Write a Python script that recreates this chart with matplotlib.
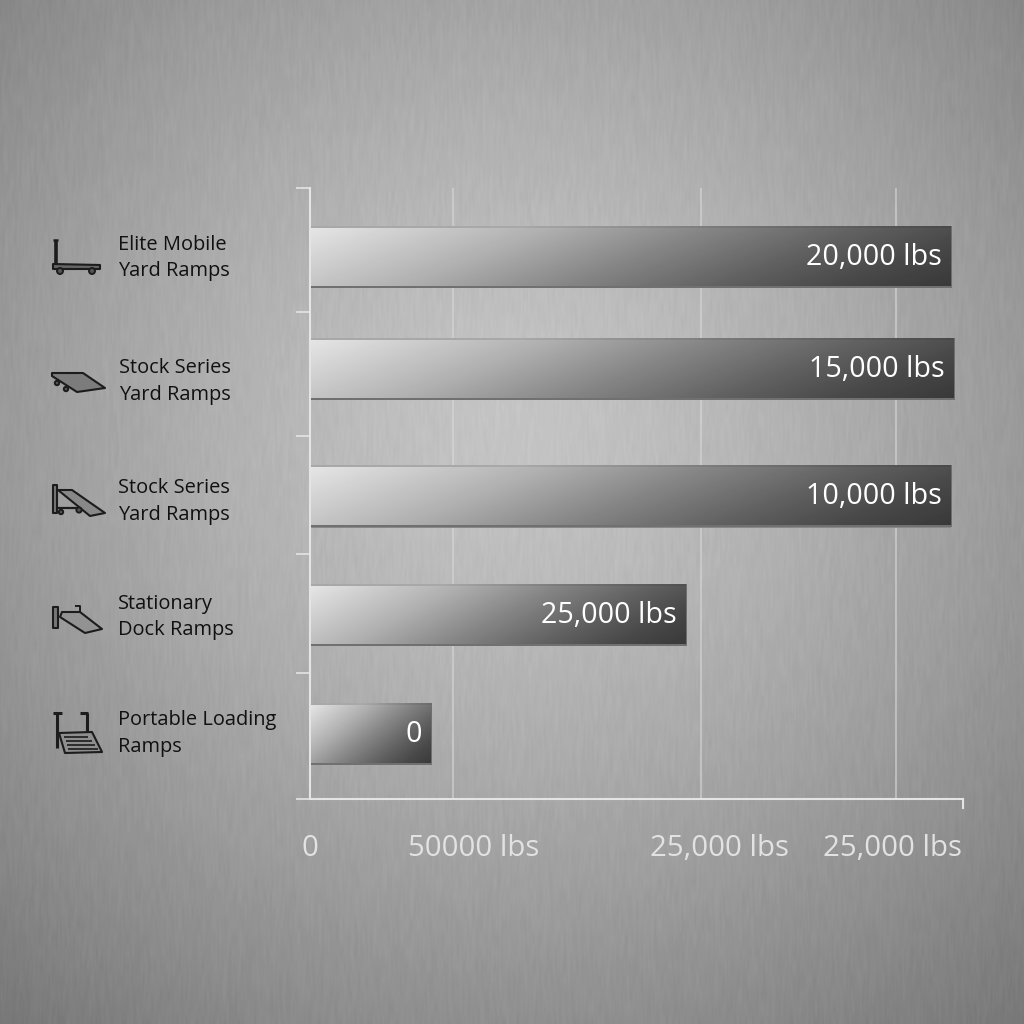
# -*- coding: utf-8 -*-
import numpy as np
import matplotlib
matplotlib.use("Agg")
import matplotlib.pyplot as plt
from matplotlib.patches import Polygon, Circle

plt.rcParams['font.family'] = ['Open Sans', 'DejaVu Sans']

# data (axis units, the printed labels do not follow the scale in the original)
categories = ["Elite Mobile\nYard Ramps", "Stock Series\nYard Ramps", "Stock Series\nYard Ramps",
              "Stationary\nDock Ramps", "Portable Loading\nRamps"]
bar_lengths = [641, 644, 641, 376, 121]
bar_labels = ["20,000 lbs", "15,000 lbs", "10,000 lbs", "25,000 lbs", "0"]
tick_labels = ["0", "50000 lbs", "25,000 lbs", "25,000 lbs"]

# layout, in image pixels
bar_centers = [257, 369, 496.5, 615, 734]
bar_height = 62
label_pos = [(118, 258), (119, 381.5), (118, 501.5), (118, 617), (118, 733.5)]
grid_x = [142, 391, 586]
tick_label_x = [-1, 163, 409, 582]
y_ticks = [188, 312, 436, 554, 673, 799]
x_end = 653

W = 1024


def make_background():
    # brushed metal: radial glow plus short vertical streaks
    yy, xx = np.mgrid[0:W, 0:W].astype(float)
    d = np.sqrt(((xx - 512) / 720) ** 2 + ((yy - 420) / 720) ** 2)
    base = 196 - 68 * d ** 1.35
    # hash noise on a coarse row grid, blended down each column
    step = 14
    rows = np.arange(W // step + 2)[:, None]
    cols = np.arange(W)[None, :]
    noise = np.modf(np.abs(np.sin(rows * 78.233 + cols * 12.9898) * 43758.5453))[0] - 0.5
    kernel = np.array([0.25, 0.5, 0.25])
    noise = np.apply_along_axis(lambda r: np.convolve(r, kernel, mode='same'), 1, noise)
    idx = yy[:, 0] / step
    i0 = idx.astype(int)
    f = (idx - i0)[:, None]
    streak = noise[i0] * (1 - f) + noise[i0 + 1] * f
    img = base + streak * 9
    return np.clip(img, 0, 255)


def bar_gradient(length, height):
    w, h = int(round(length)), int(round(height))
    y, x = np.mgrid[0:h, 0:w].astype(float)
    diag = 60 + 0.15 * w
    u = (x + diag * y / h) / (w + diag)
    img = np.interp(u, [0, 0.12, 0.3, 0.5, 0.7, 0.85, 1], [230, 208, 176, 134, 96, 72, 56])
    img[:2, :] = np.minimum(img[:2, :] * 0.92, 168)
    img[-2:, :] = 112
    img[:, -1] = np.maximum(img[:, -1], 110)
    return img


def line(ax, pts, lw=1.3, close=False, fc='none'):
    ax.add_patch(Polygon(pts, closed=close, fill=fc != 'none', facecolor=fc, edgecolor='#1c1c1c',
                         linewidth=lw, joinstyle='round'))


def wheel(ax, x, y, r=3.0):
    ax.add_patch(Circle((x, y), r, facecolor='#555555', edgecolor='#1c1c1c', linewidth=1.4))


fig = plt.figure(figsize=(W / 100, W / 100), dpi=100)

# background + decoration layer in pixel coordinates
bg = fig.add_axes([0, 0, 1, 1], zorder=0)
bg.imshow(make_background(), cmap='gray', vmin=0, vmax=255, extent=(0, W, W, 0), aspect='auto')
bg.set_xlim(0, W)
bg.set_ylim(W, 0)
bg.axis('off')

# category labels
for (px, py), name in zip(label_pos, categories):
    bg.text(px, py, name, ha='left', va='center', fontsize=14.4, color='#111111', linespacing=1.42)

# icons
line(bg, [(53, 240), (58, 240)], 1.8)
line(bg, [(55.5, 240), (55.5, 264)], 2.6)
line(bg, [(53, 264), (100, 265), (100, 269), (53, 269)], 1.5, True, '#666666')
wheel(bg, 60, 271)
wheel(bg, 92, 271)

line(bg, [(52, 373), (83, 373), (105, 388), (77, 392), (52, 376)], 1.5, True, '#7c7c7c')
wheel(bg, 57, 383, 2.2)
wheel(bg, 66, 389, 2.2)

line(bg, [(53, 485), (57, 485), (57, 513), (53, 513)], 1.5, True, '#777777')
line(bg, [(58, 490), (72, 490), (105, 513), (90, 516)], 1.5, True, '#888888')
line(bg, [(58, 508), (80, 508)], 1.6)
wheel(bg, 61, 512, 2.2)
wheel(bg, 79, 510, 2.6)

line(bg, [(53, 607), (58, 607), (58, 628), (53, 628)], 1.5, True, '#777777')
line(bg, [(75, 606), (80, 606), (80, 613), (75, 613)], 1.4)
line(bg, [(62, 612), (80, 612), (102, 629), (85, 633), (60, 617)], 1.5, True, '#929292')

line(bg, [(53, 713), (62, 713)], 2.2)
line(bg, [(57, 713), (57, 748)], 2.2)
line(bg, [(80, 713), (88, 713)], 2.2)
line(bg, [(87, 713), (87, 732)], 2.2)
line(bg, [(59, 733), (92, 732), (102, 752), (65, 753)], 1.5, True, '#8e8e8e')
for sx, sy, sl in [(64, 737, 24), (66, 741, 26), (67, 745, 28), (68, 749, 30)]:
    line(bg, [(sx, sy), (sx + sl, sy)], 1.2)

# chart
ax = fig.add_axes([310 / W, 1 - 799 / W, (963 - 310) / W, (799 - 188) / W], zorder=1)
ax.patch.set_alpha(0)
for g in grid_x:
    ax.axvline(g, color='#d8d8d8', lw=1.1, alpha=0.75, zorder=1)

bars = ax.barh(bar_centers, bar_lengths, height=bar_height, color='#888888', zorder=2)
for patch, length, text, yc in zip(bars, bar_lengths, bar_labels, bar_centers):
    ax.imshow(bar_gradient(length, bar_height), cmap='gray', vmin=0, vmax=255, interpolation='nearest',
              extent=(0, length, yc + bar_height / 2, yc - bar_height / 2), aspect='auto', zorder=3,
              clip_path=patch)
    ax.text(length - 9.5, yc + 0.5, text, ha='right', va='center', fontsize=20.6, color='white', zorder=4)

ax.set_xlim(0, x_end)
ax.set_ylim(799, 188)
ax.spines['top'].set_visible(False)
ax.spines['right'].set_visible(False)
for s in ['left', 'bottom']:
    ax.spines[s].set_color('#e4e4e4')
    ax.spines[s].set_linewidth(1.5)

ax.set_yticks(y_ticks)
ax.set_yticklabels([])
ax.tick_params(axis='y', length=10, width=1.2, color='#e4e4e4')
ax.set_xticks(tick_label_x)
ax.set_xticklabels(tick_labels, fontsize=21.2, color='#e2e2e2')
ax.tick_params(axis='x', length=0, pad=25)
ax.set_xticks([x_end], minor=True)
ax.tick_params(axis='x', which='minor', length=7, width=1.5, color='#e4e4e4')

fig.savefig('out.png', dpi=100)
